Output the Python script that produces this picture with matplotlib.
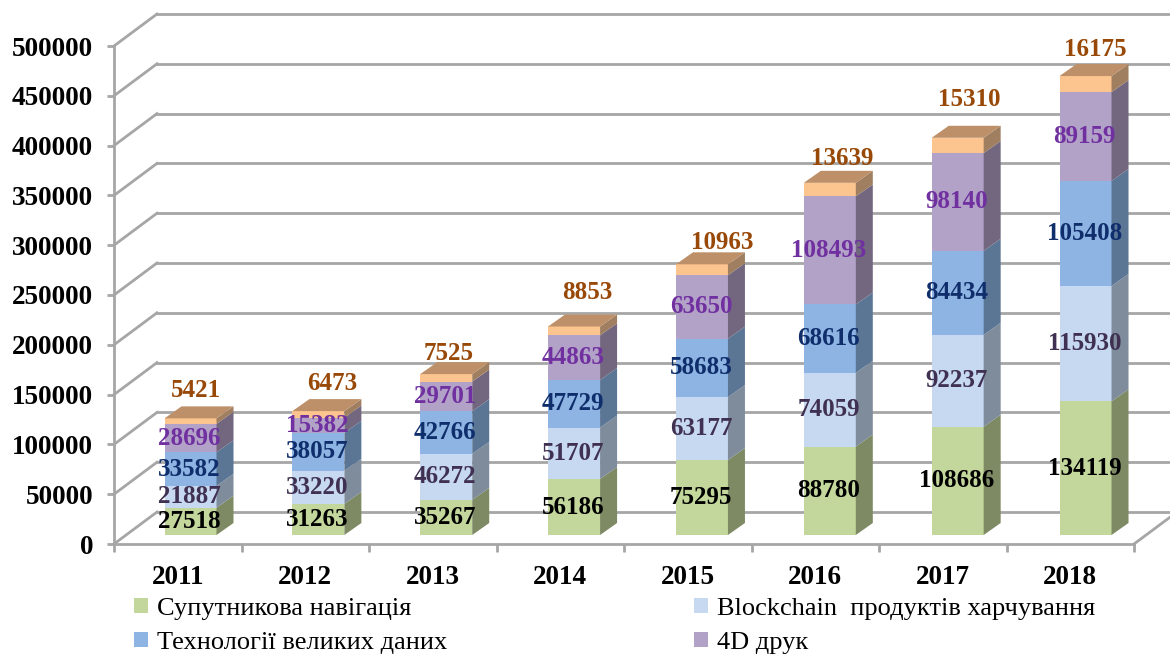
import numpy as np
import matplotlib
matplotlib.use("Agg")
import matplotlib.pyplot as plt
from matplotlib.patches import Polygon

plt.rcParams['font.family'] = ['Liberation Serif', 'DejaVu Serif']

years = ['2011', '2012', '2013', '2014', '2015', '2016', '2017', '2018']
satellite = [27518, 31263, 35267, 56186, 75295, 88780, 108686, 134119]
blockchain = [21887, 33220, 46272, 51707, 63177, 74059, 92237, 115930]
bigdata = [33582, 38057, 42766, 47729, 58683, 68616, 84434, 105408]
print4d = [28696, 15382, 29701, 44863, 63650, 108493, 98140, 89159]
other = [5421, 6473, 7525, 8853, 10963, 13639, 15310, 16175]

series = [satellite, blockchain, bigdata, print4d, other]
names = ['Супутникова навігація', 'Blockchain  продуктів харчування',
         'Технології великих даних', '4D друк', '']
front_colors = ['#C3D69B', '#C6D9F1', '#8DB4E3', '#B3A2C7', '#FCC48F']
side_colors = ['#7D8A63', '#7F8C9C', '#5B7595', '#72677F', '#A07F60']
top_color = '#BD9069'
label_colors = ['black', '#403152', '#0F2E6B', '#7030A0', '#984807']

# hand placed nudges of the top labels, in pixels
top_nudge_x = [5.5, 13.6, 2.8, 13, 20, 12, 11.3, 9.5]
top_nudge_y = [28, 28, 21, 34, 22, 24, 38, 27]

GRID = '#A6A6A6'
W, H = 1170, 654
PX_X = 127.5        # pixels per category
PX_Y = 498 / 500000  # pixels per value

fig = plt.figure(figsize=(W / 100, H / 100), dpi=100)
ax = fig.add_axes([114 / W, 1 - 544 / H, 1020 / W, 498 / H])
ax.set_xlim(0, 8)
ax.set_ylim(0, 500000)
ax.patch.set_visible(False)


def px_x(p):
    return p / PX_X


def px_y(p):
    return p / PX_Y


# back wall and floor
wall_dx, wall_dy = px_x(43), px_y(32)
ticks_y = np.arange(0, 500001, 50000)
for v in ticks_y:
    ax.plot([0, wall_dx], [v, v + wall_dy], color=GRID, lw=2, clip_on=False, zorder=1)
    ax.plot([wall_dx, 8 + wall_dx], [v + wall_dy, v + wall_dy], color=GRID, lw=2,
            clip_on=False, zorder=1)
ax.plot([8, 8 + wall_dx], [0, wall_dy], color=GRID, lw=2, clip_on=False, zorder=1)

for s in ['top', 'right']:
    ax.spines[s].set_visible(False)
for s in ['left', 'bottom']:
    ax.spines[s].set_color(GRID)
    ax.spines[s].set_linewidth(2)
    ax.spines[s].set_zorder(1)

ax.set_yticks(ticks_y)
ax.set_yticklabels([str(v) for v in ticks_y], fontsize=19.5, fontweight='bold')
ax.tick_params(axis='y', color=GRID, width=2, length=5, pad=10)
ax.set_xticks(np.arange(0, 9))
ax.set_xticklabels([])
ax.tick_params(axis='x', which='major', color=GRID, width=2, length=6)
ax.set_xticks(np.arange(8) + 0.5, minor=True)
ax.set_xticklabels(years, minor=True, fontsize=19.5, fontweight='bold')
ax.tick_params(axis='x', which='minor', length=0, pad=15)

# bars
bar_w = px_x(52)
base_x, base_y = px_x(12.75), px_y(9)
bar_dx, bar_dy = px_x(17), px_y(12)
centers = 0.5 + base_x + np.arange(8) * px_x(127.86)
bottoms = np.zeros(8) + base_y
handles = []
for k, vals in enumerate(series):
    vals = np.array(vals)
    bars = ax.bar(centers, vals, bar_w, bottom=bottoms, color=front_colors[k], zorder=3,
                  clip_on=False, label=names[k])
    handles.append(bars)
    for c, b, v in zip(centers, bottoms, vals):
        r = c + bar_w / 2
        ax.add_patch(Polygon([(r, b), (r + bar_dx, b + bar_dy), (r + bar_dx, b + v + bar_dy),
                              (r, b + v)], facecolor=side_colors[k], zorder=3, clip_on=False))
        if k == len(series) - 1:
            l = c - bar_w / 2
            ax.add_patch(Polygon([(l, b + v), (r, b + v), (r + bar_dx, b + v + bar_dy),
                                  (l + bar_dx, b + v + bar_dy)], facecolor=top_color,
                                 zorder=3, clip_on=False))
    bottoms = bottoms + vals

# value labels
bottoms = np.zeros(8) + base_y
for k, vals in enumerate(series):
    for i, v in enumerate(vals):
        if k == len(series) - 1:
            ax.annotate(str(v), (centers[i], bottoms[i] + v),
                        xytext=(top_nudge_x[i] * 0.72, top_nudge_y[i] * 0.72),
                        textcoords='offset points', ha='center', va='center',
                        fontsize=18, fontweight='bold', color=label_colors[k], zorder=5)
        else:
            ax.text(centers[i] - px_x(1), bottoms[i] + v / 2, str(v), ha='center', va='center',
                    fontsize=18, fontweight='bold', color=label_colors[k], zorder=5)
    bottoms = bottoms + np.array(vals)

order = [0, 2, 1, 3]
fig.legend([handles[i] for i in order], [names[i] for i in order], ncol=2,
           loc='lower left', bbox_to_anchor=(134 / W, 1 - 654 / H), frameon=False,
           fontsize=19, handlelength=0.53, handleheight=0.53, handletextpad=0.35,
           labelspacing=0.45, columnspacing=9.35, borderpad=0, borderaxespad=0)

fig.savefig('out.png', dpi=100)
